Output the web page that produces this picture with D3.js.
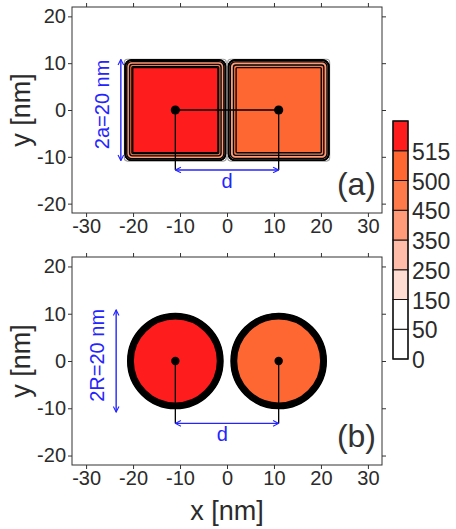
<!DOCTYPE html>
<html>
<head>
<meta charset="utf-8">
<script src="https://cdn.jsdelivr.net/npm/d3@7"></script>
<style>
  body { margin: 0; background: #fff; }
  text { font-family: "Liberation Sans", Arial, sans-serif; fill: #2b2b2b; }
</style>
</head>
<body>
<div id="chart"></div>
<script>
// axis ticks
var xTicks = [-30, -20, -10, 0, 10, 20, 30];
var yTicks = [-20, -10, 0, 10, 20];

// contour levels and band colours (colour of the band above each level)
var levels = [0, 50, 150, 250, 350, 450, 500, 515, 530];
var levelLabels = ["0", "50", "150", "250", "350", "450", "500", "515"];
var bandColors = ["#ffffff", "#ffffff", "#ffdcd2", "#ffbca8", "#ff9b78", "#ff7a4a", "#fe6632", "#ff1c1c"];

// particles: centre x [nm], value inside, half size a = R [nm]
var particleX = [-11, 11];
var particleValue = [520, 505];
var halfSize = 10;

var width = 456, height = 529;

var svg = d3.select("#chart")
    .append("svg")
    .attr("width", width)
    .attr("height", height);

var x = d3.scaleLinear().domain([-33, 33]).range([72, 382]);
var k = x(1) - x(0);

var panels = [
    { top: 7, bottom: 213, shape: "square", tag: "(a)", size: "2a=20 nm", arrowX: -22.6, arrowY: -12.8, dX: 0, link: true },
    { top: 257, bottom: 465, shape: "circle", tag: "(b)", size: "2R=20 nm", arrowX: -23.6, arrowY: -13.2, dX: -1, link: false }
];

var blue = "#2424ff";

svg.append("defs").append("marker")
    .attr("id", "chev")
    .attr("viewBox", "0 0 10 10")
    .attr("refX", 9).attr("refY", 5)
    .attr("markerWidth", 7).attr("markerHeight", 7)
    .attr("markerUnits", "userSpaceOnUse")
    .attr("orient", "auto-start-reverse")
    .append("path")
    .attr("d", "M1,1 L9,5 L1,9")
    .attr("fill", "none")
    .attr("stroke", blue)
    .attr("stroke-width", 1.6);

panels.forEach(function(p) {
    var y = d3.scaleLinear().domain([-22, 22]).range([p.bottom, p.top]);
    var g = svg.append("g");

    // particles drawn as nested contour shapes
    particleX.forEach(function(cx, pi) {
        var val = particleValue[pi];
        var lv = levels.filter(function(l) { return l < val; });

        if (p.shape == "square") {
            var off = d3.scalePow().exponent(4).domain([0, val]).range([0.68, -1.0]);
            var o = 0.84;
            g.append("rect")
                .attr("x", x(cx - halfSize - o))
                .attr("y", y(halfSize + o))
                .attr("width", 2 * (halfSize + o) * k)
                .attr("height", 2 * (halfSize + o) * k)
                .attr("rx", 3).attr("ry", 3)
                .attr("fill", "none")
                .attr("stroke", "#a0a0a0")
                .attr("stroke-width", 1.2);
            g.selectAll(".c" + pi)
                .data(lv)
                .enter().append("rect")
                .attr("x", function(l) { return x(cx - halfSize - off(l)); })
                .attr("y", function(l) { return y(halfSize + off(l)); })
                .attr("width", function(l) { return 2 * (halfSize + off(l)) * k; })
                .attr("height", function(l) { return 2 * (halfSize + off(l)) * k; })
                .attr("rx", function(l) { return Math.max(1, (off(l) + 1.0) * k * 0.8); })
                .attr("fill", function(l) { return bandColors[levels.indexOf(l)]; })
                .attr("stroke", "#000")
                .attr("stroke-width", 1.35);
        } else {
            var offc = d3.scaleLinear().domain([0, val]).range([0.1, -1.0]);
            g.selectAll(".c" + pi)
                .data(lv)
                .enter().append("circle")
                .attr("cx", x(cx))
                .attr("cy", y(0))
                .attr("r", function(l) { return (halfSize + offc(l)) * k; })
                .attr("fill", function(l) { return bandColors[levels.indexOf(l)]; })
                .attr("stroke", "#000")
                .attr("stroke-width", 1.8);
        }
    });

    // distance markers
    if (p.link) {
        g.append("line")
            .attr("x1", x(particleX[0])).attr("x2", x(particleX[1]))
            .attr("y1", y(0)).attr("y2", y(0))
            .attr("stroke", "#000").attr("stroke-width", 1.3);
    }
    particleX.forEach(function(cx) {
        g.append("line")
            .attr("x1", x(cx)).attr("x2", x(cx))
            .attr("y1", y(0)).attr("y2", y(p.arrowY))
            .attr("stroke", "#000").attr("stroke-width", 1.3);
    });
    g.selectAll(".dot")
        .data(particleX)
        .enter().append("circle")
        .attr("cx", function(d) { return x(d); })
        .attr("cy", y(0))
        .attr("r", p.shape == "square" ? 4.6 : 4.2)
        .attr("fill", "#000");

    g.append("line")
        .attr("x1", x(particleX[0])).attr("x2", x(particleX[1]))
        .attr("y1", y(p.arrowY)).attr("y2", y(p.arrowY))
        .attr("stroke", blue).attr("stroke-width", 1.4)
        .attr("marker-start", "url(#chev)")
        .attr("marker-end", "url(#chev)");
    g.append("text")
        .attr("x", x(p.dX)).attr("y", y(p.arrowY) + 18)
        .attr("text-anchor", "middle")
        .style("font-size", "20px")
        .style("fill", blue)
        .text("d");

    g.append("line")
        .attr("x1", x(p.arrowX)).attr("x2", x(p.arrowX))
        .attr("y1", y(10.8)).attr("y2", y(-10.8))
        .attr("stroke", blue).attr("stroke-width", 1.4)
        .attr("marker-start", "url(#chev)")
        .attr("marker-end", "url(#chev)");
    g.append("text")
        .attr("transform", "translate(" + (x(p.arrowX) - 12) + "," + y(1.2) + ") rotate(-90)")
        .attr("text-anchor", "middle")
        .style("font-size", "20px")
        .style("fill", blue)
        .text(p.size);

    // axes
    var fmt = function(d) { return d; };
    var ax = [
        [d3.axisBottom(x).tickValues(xTicks).tickFormat(fmt), "translate(0," + p.bottom + ")"],
        [d3.axisTop(x).tickValues(xTicks).tickFormat(""), "translate(0," + p.top + ")"],
        [d3.axisLeft(y).tickValues(yTicks).tickFormat(fmt), "translate(" + x.range()[0] + ",0)"],
        [d3.axisRight(y).tickValues(yTicks).tickFormat(""), "translate(" + x.range()[1] + ",0)"]
    ];
    ax.forEach(function(a) {
        var axg = svg.append("g")
            .attr("transform", a[1])
            .call(a[0].tickSize(4).tickPadding(2).tickSizeOuter(0));
        axg.select(".domain").remove();
        axg.selectAll("line").attr("stroke", "#333");
        axg.selectAll("text")
            .style("font-family", "'Liberation Sans', Arial, sans-serif")
            .style("font-size", "20px")
            .attr("fill", "#2b2b2b");
    });

    svg.append("rect")
        .attr("x", x.range()[0]).attr("y", p.top)
        .attr("width", x.range()[1] - x.range()[0])
        .attr("height", p.bottom - p.top)
        .attr("fill", "none")
        .attr("stroke", "#333")
        .attr("stroke-width", 1);

    svg.append("text")
        .attr("transform", "translate(30," + y(0) + ") rotate(-90)")
        .attr("text-anchor", "middle")
        .style("font-size", "27px")
        .text("y [nm]");

    svg.append("text")
        .attr("x", 376).attr("y", p.bottom - 18)
        .attr("text-anchor", "end")
        .style("font-size", "32px")
        .style("fill", "#333")
        .text(p.tag);
});

svg.append("text")
    .attr("x", x(0)).attr("y", 520)
    .attr("text-anchor", "middle")
    .style("font-size", "27px")
    .text("x [nm]");

// colour bar
var cb = d3.scaleLinear().domain([0, bandColors.length]).range([359, 121]);
var cbg = svg.append("g");
cbg.selectAll("rect")
    .data(bandColors)
    .enter().append("rect")
    .attr("x", 393)
    .attr("y", function(d, i) { return cb(i + 1); })
    .attr("width", 15)
    .attr("height", function(d, i) { return cb(i) - cb(i + 1); })
    .attr("fill", function(d) { return d; })
    .attr("stroke", "#111")
    .attr("stroke-width", 1);
cbg.append("rect")
    .attr("x", 393).attr("y", cb(bandColors.length))
    .attr("width", 15).attr("height", cb(0) - cb(bandColors.length))
    .attr("fill", "none")
    .attr("stroke", "#111")
    .attr("stroke-width", 1.3);
cbg.selectAll(".lbl")
    .data(levelLabels)
    .enter().append("text")
    .attr("x", 412)
    .attr("y", function(d, i) { return cb(i) + 9; })
    .style("font-size", "23px")
    .text(function(d) { return d; });
</script>
</body>
</html>
